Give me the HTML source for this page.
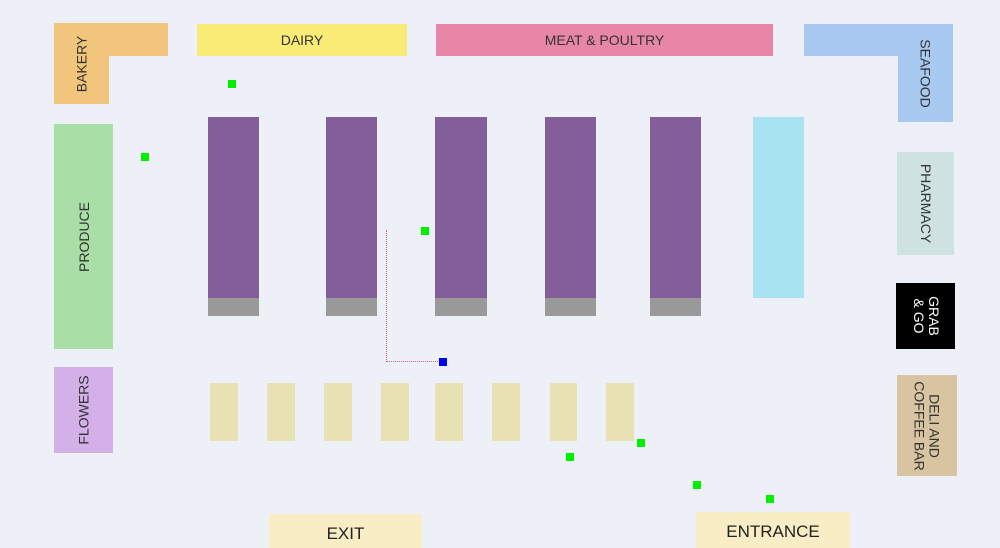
<!DOCTYPE html><html><head><style>
body{margin:0;width:1000px;height:548px;background:#eef0f8;position:relative;overflow:hidden;font-family:"Liberation Sans",sans-serif;}
div{position:absolute;box-sizing:border-box}
.t{display:flex;align-items:center;justify-content:center;font-size:14px;color:#333}
.v span{transform:rotate(-90deg);white-space:nowrap}
.r span{transform:rotate(90deg);white-space:nowrap;text-align:center;line-height:15px}
.p{background:#845e9a}.g{background:#999}.c{background:#e8e1b3}
.d{width:8px;height:8px;background:#00ee00}
</style></head><body>
<div style="left:54px;top:23px;width:114px;height:33px;background:#f1c57c"></div>
<div class="t v" style="left:54px;top:23px;width:55px;height:81px;background:#f1c57c"><span>BAKERY</span></div>
<div class="t" style="left:197px;top:24px;width:210px;height:32px;background:#faea76">DAIRY</div>
<div class="t" style="left:436px;top:24px;width:337px;height:32px;background:#e886a7">MEAT &amp; POULTRY</div>
<div style="left:804px;top:24px;width:149px;height:32px;background:#a9caf0"></div>
<div class="t r" style="left:898px;top:24px;width:55px;height:98px;background:#a9caf0"><span>SEAFOOD</span></div>
<div class="t v" style="left:54px;top:124px;width:59px;height:225px;background:#a9dfa6"><span>PRODUCE</span></div>
<div class="t v" style="left:54px;top:367px;width:59px;height:86px;background:#d4b0e8"><span>FLOWERS</span></div>
<div class="t r" style="left:897px;top:152px;width:57px;height:103px;background:#cfe2e2"><span>PHARMACY</span></div>
<div class="t r" style="left:896px;top:283px;width:59px;height:66px;background:#000;color:#fff"><span>GRAB<br>&amp; GO</span></div>
<div class="t r" style="left:897px;top:375px;width:60px;height:101px;background:#d8c4a0"><span>DELI AND<br>COFFEE BAR</span></div>
<div class="p" style="left:208px;top:117px;width:51px;height:181px"></div><div class="g" style="left:208px;top:298px;width:51px;height:18px"></div>
<div class="p" style="left:326px;top:117px;width:51px;height:181px"></div><div class="g" style="left:326px;top:298px;width:51px;height:18px"></div>
<div class="p" style="left:435px;top:117px;width:52px;height:181px"></div><div class="g" style="left:435px;top:298px;width:52px;height:18px"></div>
<div class="p" style="left:545px;top:117px;width:51px;height:181px"></div><div class="g" style="left:545px;top:298px;width:51px;height:18px"></div>
<div class="p" style="left:650px;top:117px;width:51px;height:181px"></div><div class="g" style="left:650px;top:298px;width:51px;height:18px"></div>
<div style="left:753px;top:117px;width:51px;height:181px;background:#a8e3f2"></div>
<div class="c" style="left:210px;top:383px;width:28px;height:58px"></div>
<div class="c" style="left:267px;top:383px;width:28px;height:58px"></div>
<div class="c" style="left:324px;top:383px;width:28px;height:58px"></div>
<div class="c" style="left:381px;top:383px;width:28px;height:58px"></div>
<div class="c" style="left:435px;top:383px;width:28px;height:58px"></div>
<div class="c" style="left:492px;top:383px;width:28px;height:58px"></div>
<div class="c" style="left:550px;top:383px;width:27px;height:58px"></div>
<div class="c" style="left:606px;top:383px;width:28px;height:58px"></div>
<div class="t" style="left:269px;top:514px;width:153px;height:34px;background:#f8edc5;font-size:17px;color:#222;padding-top:6px">EXIT</div>
<div class="t" style="left:696px;top:512px;width:154px;height:36px;background:#f8edc5;font-size:17px;color:#222;padding-top:4px">ENTRANCE</div>
<div style="left:386px;top:230px;width:0;height:132px;border-left:1px dotted #e05a8a"></div>
<div style="left:386px;top:361px;width:54px;height:0;border-top:1px dotted #e05a8a"></div>
<div class="d" style="left:228px;top:80px"></div>
<div class="d" style="left:141px;top:153px"></div>
<div class="d" style="left:421px;top:227px"></div>
<div class="d" style="left:566px;top:453px"></div>
<div class="d" style="left:637px;top:439px"></div>
<div class="d" style="left:693px;top:481px"></div>
<div class="d" style="left:766px;top:495px"></div>
<div class="d" style="left:439px;top:358px;background:#0000ee"></div>
</body></html>
